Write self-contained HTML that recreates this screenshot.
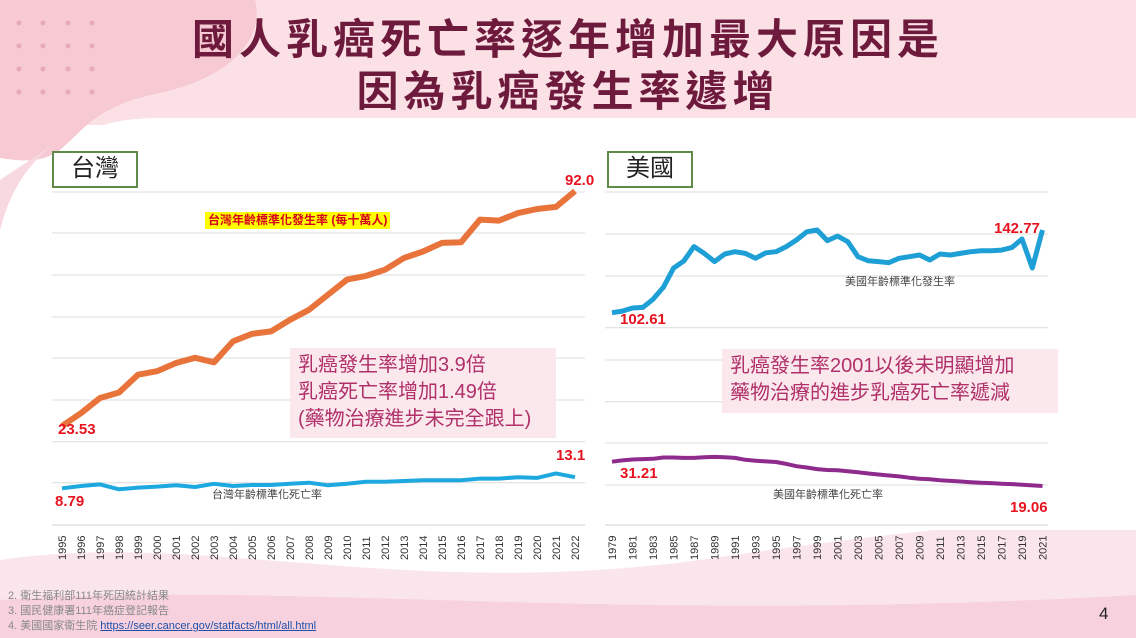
<!DOCTYPE html>
<html><head><meta charset="utf-8">
<style>
body{margin:0;width:1136px;height:638px;overflow:hidden;background:#fff;font-family:"Liberation Sans","Noto Sans CJK TC",sans-serif;position:relative}
.abs{position:absolute}
.title{left:0;width:1136px;text-align:center;color:#6e1a3c;font-weight:bold;font-size:42px;letter-spacing:5px;font-family:"Liberation Sans","Noto Sans CJK TC",sans-serif}
.tag{border:2px solid #5f8a4a;background:#fff;font-size:24px;color:#222;text-align:center;line-height:31px}
.note{background:#fbe8ed;color:#b0306a;font-size:20px;line-height:27px;padding:4px 8px}
</style></head><body>
<svg class="abs" style="left:0;top:0" width="1136" height="638">
<rect x="0" y="0" width="1136" height="125" fill="#fbe1e6"/>
<path d="M0,0 L255,0 C265,40 230,80 150,95 C90,110 80,135 60,150 C40,165 15,160 0,158 Z" fill="#f6c9d3"/>
<path d="M0,180 L0,230 C10,190 30,160 60,140 Z" fill="#f9d9e0"/>
<path d="M0,560 C200,530 400,600 700,560 C900,530 1050,520 1136,505 L1136,638 L0,638 Z" fill="#fbe5ec"/>
<path d="M0,600 C300,580 600,625 1136,595 L1136,638 L0,638 Z" fill="#f7d2de"/>
<g fill="#e8a9b9">
<circle cx="19" cy="23" r="2.5"/><circle cx="43" cy="23" r="2.5"/><circle cx="68" cy="23" r="2.5"/><circle cx="92" cy="23" r="2.5"/>
<circle cx="19" cy="46" r="2.5"/><circle cx="43" cy="46" r="2.5"/><circle cx="68" cy="46" r="2.5"/><circle cx="92" cy="46" r="2.5"/>
<circle cx="19" cy="69" r="2.5"/><circle cx="43" cy="69" r="2.5"/><circle cx="68" cy="69" r="2.5"/><circle cx="92" cy="69" r="2.5"/>
<circle cx="19" cy="92" r="2.5"/><circle cx="43" cy="92" r="2.5"/><circle cx="68" cy="92" r="2.5"/><circle cx="92" cy="92" r="2.5"/>
</g>
<path d="M60,150 C80,130 110,118 160,118 L1136,118 L1136,530 L50,530 Z" fill="#fff"/>
</svg>

<div class="abs title" style="top:6px">國人乳癌死亡率逐年增加最大原因是</div>
<div class="abs title" style="top:58px">因為乳癌發生率遽增</div>

<svg id="chart" class="abs" style="left:0;top:0" width="1136" height="638"></svg>

<div class="abs tag" style="left:52px;top:151px;width:82px;height:33px">台灣</div>
<div class="abs tag" style="left:607px;top:151px;width:82px;height:33px">美國</div>

<div class="abs" style="left:205px;top:212px;background:#ffff00;color:#d6001c;font-size:12px;font-weight:bold;padding:1px 3px;line-height:15px">台灣年齡標準化發生率 (每十萬人)</div>

<div class="abs note" style="left:290px;top:348px;width:250px;height:82px">乳癌發生率增加3.9倍<br>乳癌死亡率增加1.49倍<br>(藥物治療進步未完全跟上)</div>
<div class="abs note" style="left:722px;top:349px;width:320px;height:56px">乳癌發生率2001以後未明顯增加<br>藥物治療的進步乳癌死亡率遞減</div>

<div class="abs" style="left:8px;top:589px;font-size:11px;line-height:15px;color:#888">2. 衛生福利部111年死因統計結果<br>3. 國民健康署111年癌症登記報告<br>4. 美國國家衛生院 <span style="color:#1f4fa8;text-decoration:underline">https://seer.cancer.gov/statfacts/html/all.html</span></div>
<div class="abs" style="left:1099px;top:604px;font-size:17px;color:#222">4</div>

<script>
const twYears=[1995,1996,1997,1998,1999,2000,2001,2002,2003,2004,2005,2006,2007,2008,2009,2010,2011,2012,2013,2014,2015,2016,2017,2018,2019,2020,2021,2022];
const twIncidence=[23.53,27.3,31.7,33.3,38.5,39.5,41.9,43.4,42.1,48.2,50.4,51.1,54.5,57.4,61.8,66.2,67.3,69.1,72.5,74.4,76.9,77.1,83.7,83.4,85.6,86.8,87.4,92.0];
const twMortality=[8.79,9.46,9.93,8.5,8.98,9.27,9.65,9.17,10.1,9.46,9.74,9.74,10.1,10.4,9.65,10.1,10.7,10.7,10.9,11.1,11.1,11.1,11.6,11.6,12.0,11.8,13.1,12.0];
const usYears=[];for(let y=1979;y<=2021;y++)usYears.push(y);
const usIncidence=[102.61,103.4,104.9,105.2,109.1,114.9,124.2,127.7,134.7,131.4,127.4,131.1,132.2,131.4,129.0,131.7,132.2,134.7,137.9,141.9,142.8,137.6,139.8,137.1,129.8,127.8,127.4,126.9,129.0,129.8,130.6,128.2,131.1,130.6,131.4,132.2,132.7,132.7,133.0,134.2,138.4,124.3,142.77];
const usMortality=[31.21,31.85,32.33,32.49,32.65,33.29,33.29,33.13,33.13,33.45,33.61,33.45,33.13,32.17,31.69,31.37,31.05,30.09,28.97,28.33,27.53,27.05,26.89,26.41,25.93,25.29,24.81,24.33,23.85,23.21,22.73,22.41,21.93,21.61,21.29,20.97,20.65,20.49,20.17,20.01,19.69,19.37,19.06];

const NS='http://www.w3.org/2000/svg';
const svg=document.getElementById('chart');
function mk(tag,attrs,parent){const e=document.createElementNS(NS,tag);for(const k in attrs)e.setAttribute(k,attrs[k]);(parent||svg).appendChild(e);return e;}

const twX=y=>62+(y-1995)*(575-62)/(2022-1995);
const twYInc=v=>426-(v-23.53)*3.43;
const twYMort=v=>488.3-(v-8.79)*3.45;
const usX=y=>612+(y-1979)*10.25;
const usYInc=v=>312.7-(v-102.61)*2.06;
const usYMort=v=>461.7-(v-31.21)*2.0;

[192,233,275,317,358,400,441.7,482.7].forEach(g=>{
  const l=mk('line',{x1:52,x2:585,y1:g,y2:g,stroke:'#dcdcdc','stroke-width':1});
  
  
});
mk('line',{x1:52,x2:585,y1:525,y2:525,stroke:'#d0d0d0','stroke-width':1});
[192,234,276,327.7,360,401.7,443,485].forEach(g=>{
  const l=mk('line',{x1:605,x2:1048,y1:g,y2:g,stroke:'#dcdcdc','stroke-width':1});
  
  
});
mk('line',{x1:605,x2:1048,y1:525,y2:525,stroke:'#d0d0d0','stroke-width':1});

function line(xs,ys,fx,fy,color,w,name){
  const d=xs.map((x,i)=>(i?'L':'M')+fx(x).toFixed(1)+','+fy(ys[i]).toFixed(1)).join(' ');
  const p=mk('path',{d:d,fill:'none',stroke:color,'stroke-width':w,'stroke-linejoin':'round','stroke-linecap':'butt'});
  
  
}
line(twYears,twIncidence,twX,twYInc,'#e8743b',6,'taiwan-incidence-line');
line(twYears,twMortality,twX,twYMort,'#1ea8e0',4,'taiwan-mortality-line');
line(usYears,usIncidence,usX,usYInc,'#1e9fd6',5,'usa-incidence-line');
line(usYears,usMortality,usX,usYMort,'#8e2b8c',4,'usa-mortality-line');

function txt(x,y,s,attrs,name){
  const t=mk('text',Object.assign({x:x,y:y,'font-family':'Liberation Sans, Noto Sans CJK TC, sans-serif'},attrs));
  t.textContent=s;
  
  
  return t;
}
const red={fill:'#e8121f','font-size':15,'font-weight':'bold'};
txt(58,434,twIncidence[0].toFixed(2),red,'taiwan-incidence-start-label');
txt(565,185,twIncidence[twIncidence.length-1].toFixed(1),red,'taiwan-incidence-end-label');
txt(55,506,twMortality[0].toFixed(2),red,'taiwan-mortality-start-label');
txt(556,460,'13.1',red,'taiwan-mortality-end-label');
txt(620,324,usIncidence[0].toFixed(2),red,'usa-incidence-start-label');
txt(994,233,usIncidence[usIncidence.length-1].toFixed(2),red,'usa-incidence-end-label');
txt(620,478,usMortality[0].toFixed(2),red,'usa-mortality-start-label');
txt(1010,512,usMortality[usMortality.length-1].toFixed(2),red,'usa-mortality-end-label');

const gray={fill:'#444','font-size':11};
txt(212,498,'台灣年齡標準化死亡率',gray,'taiwan-mortality-legend');
txt(845,285,'美國年齡標準化發生率',gray,'usa-incidence-legend');
txt(773,498,'美國年齡標準化死亡率',gray,'usa-mortality-legend');

twYears.forEach(y=>{
  const x=twX(y)+4;
  txt(x,560,String(y),{fill:'#333','font-size':11,transform:'rotate(-90 '+x+' 560)'},'taiwan-x-tick');
});
usYears.filter(y=>y%2===1).forEach(y=>{
  const x=usX(y)+4;
  txt(x,560,String(y),{fill:'#333','font-size':11,transform:'rotate(-90 '+x+' 560)'},'usa-x-tick');
});
</script>
</body></html>
